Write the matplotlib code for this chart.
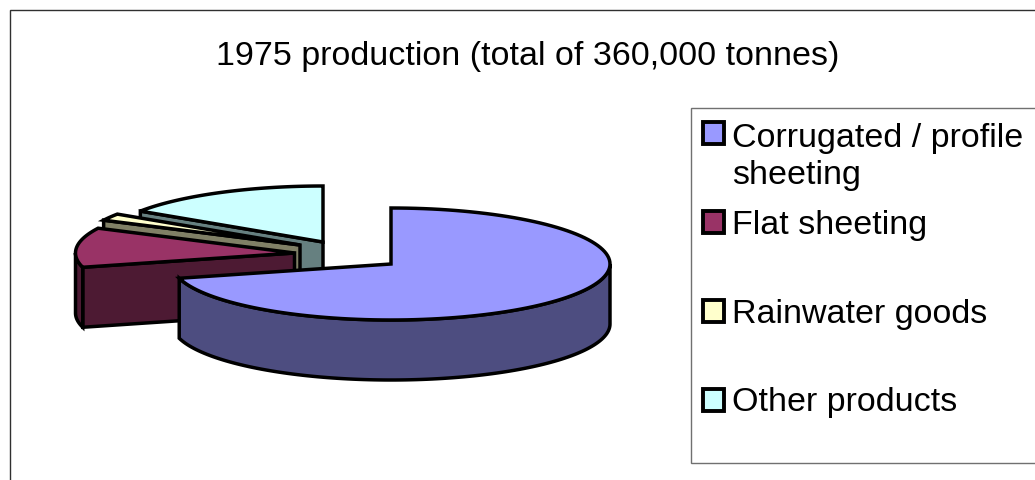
import numpy as np
import matplotlib
matplotlib.use("Agg")
import matplotlib.pyplot as plt
from matplotlib.patches import Polygon, Rectangle

# Data (percent of 360,000 tonnes)
categories = ["Corrugated / profile\nsheeting", "Flat sheeting", "Rainwater goods", "Other products"]
shares = [70.9, 11.4, 2.0, 15.7]
title = "1975 production (total of 360,000 tonnes)"

# Styles
top_colors = ["#9999FF", "#993366", "#FFFFCC", "#CCFFFF"]
side_colors = ["#4D4D80", "#4D1A33", "#808066", "#668080"]
apex = [(391, 265), (294.5, 254), (300, 246), (323, 243)]
RX, RY, DEPTH = 219, 56, 60
LW = 2.5
FS = 24.5
plt.rcParams["font.family"] = ["Liberation Sans", "DejaVu Sans"]

fig = plt.figure(figsize=(10.35, 4.81), dpi=100)
ax = fig.add_axes([0, 0, 1, 1])
ax.set_xlim(0, 1035)
ax.set_ylim(481, 0)
ax.axis("off")

# chart frame and legend box
ax.add_patch(Rectangle((9.5, 10.5), 1100, 600, fc="white", ec="#303030", lw=1.0, zorder=0))
ax.add_patch(Rectangle((690.5, 108.5), 500, 355, fc="white", ec="#707070", lw=1.0, zorder=1))


def rim(cx, cy, a0, a1, n=120):
    t = np.radians(np.linspace(a0, a1, n))
    return np.column_stack([cx + RX * np.sin(t), cy - RY * np.cos(t)])


def poly(pts, fc, z):
    ax.add_patch(Polygon(pts, closed=True, fc=fc, ec="black", lw=LW, joinstyle="miter", zorder=z))


edges = np.concatenate([[0], np.cumsum(shares)]) / np.sum(shares) * 360
# back-to-front: last slice first, the first slice on top
for i in range(len(shares) - 1, -1, -1):
    a0, a1 = edges[i], edges[i + 1]
    cx, cy = apex[i]
    z = 5 + (len(shares) - i) * 3
    down = np.array([0, DEPTH])
    c = np.array([cx, cy], float)
    # radial face on the start side (only faces the viewer in the back-left part)
    if a0 > 180:
        p = rim(cx, cy, a0, a0, 1)[0]
        poly([c, p, p + down, c + down], side_colors[i], z)
    # curved outer wall: visible where the rim faces the viewer (90..270 deg)
    lo, hi = max(a0, 90), min(a1, 270)
    if hi > lo:
        arc = rim(cx, cy, lo, hi)
        poly(np.vstack([arc, (arc + down)[::-1]]), side_colors[i], z + 1)
    # top face
    poly(np.vstack([c, rim(cx, cy, a0, a1)]), top_colors[i], z + 2)

ax.text(528, 56, title, ha="center", va="center", fontsize=FS, color="black", zorder=30)

# legend
swatch_y = [122, 211, 300, 389]
text_y = [157, 226, 315, 403]
for name, col, sy, ty in zip(categories, top_colors, swatch_y, text_y):
    ax.add_patch(Rectangle((703, sy + 1), 21, 22, fc=col, ec="black", lw=LW + 0.3, joinstyle="miter", zorder=30))
    ax.text(732, ty, name, ha="left", va="center", fontsize=FS, linespacing=1.255, color="black", zorder=30)

fig.savefig("out.png", dpi=100)
